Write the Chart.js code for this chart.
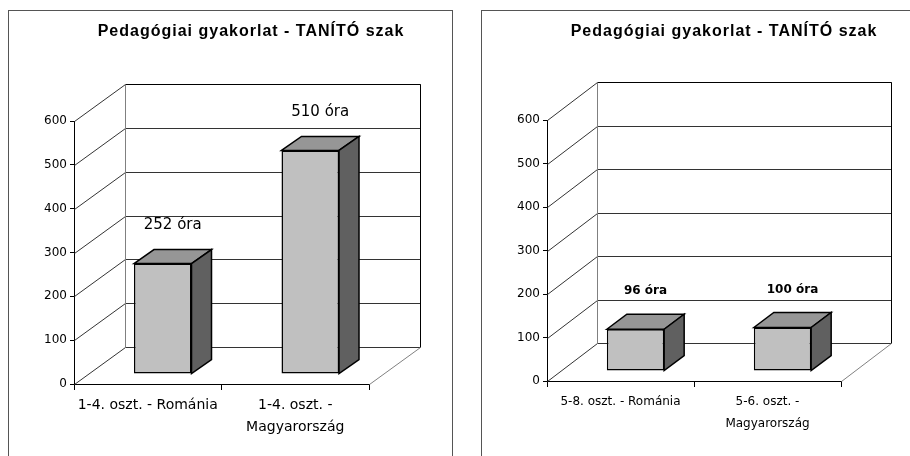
<!DOCTYPE html>
<html>
<head>
<meta charset="utf-8">
<script src="https://cdn.jsdelivr.net/npm/chart.js@4.4.1/dist/chart.umd.min.js"></script>
<style>
  html, body { margin: 0; padding: 0; background: #fff; overflow: hidden; }
  body { width: 910px; height: 456px; position: relative; }
  .box { position: absolute; top: 10px; height: 470px; box-sizing: border-box; border: 1px solid #555; }
  canvas { position: absolute; top: 0; }
</style>
</head>
<body>
<div class="box" style="left:8px; width:445px;"></div>
<div class="box" style="left:481px; width:440px;"></div>
<canvas id="leftChart" width="455" height="456" style="left:0"></canvas>
<canvas id="rightChart" width="455" height="456" style="left:455px"></canvas>
<script>
const titleText = 'Pedagógiai gyakorlat - TANÍTÓ szak';
const unit = 'óra';
const yTickValues = [0, 100, 200, 300, 400, 500, 600];

const leftCategories = ['1-4. oszt. - Románia', ['1-4. oszt. -', 'Magyarország']];
const leftValues = [252, 510];

const rightCategories = ['5-8. oszt. - Románia', ['5-6. oszt. -', 'Magyarország']];
const rightValues = [96, 100];

const FONT = 'DejaVu Sans';

function line(ctx, x1, y1, x2, y2) {
  ctx.beginPath();
  ctx.moveTo(x1, y1);
  ctx.lineTo(x2, y2);
  ctx.stroke();
}

function poly(ctx, pts, fill) {
  ctx.beginPath();
  ctx.moveTo(pts[0][0], pts[0][1]);
  pts.slice(1).forEach(p => ctx.lineTo(p[0], p[1]));
  ctx.closePath();
  ctx.fillStyle = fill;
  ctx.fill();
  ctx.stroke();
}

// fake excel 3d look: walls, floor, bar tops/sides, value labels, title
function threeD(o) {
  return {
    id: 'threeD',
    beforeDatasetsDraw(chart) {
      const { ctx, chartArea: a, scales: { y } } = chart;
      const [dx, dy] = o.depth;
      const L = Math.round(a.left) + 0.5, R = Math.round(a.right) + 0.5;
      const y0 = Math.round(y.getPixelForValue(0)) + 0.5;
      const yTop = Math.round(y.getPixelForValue(yTickValues[yTickValues.length - 1])) + 0.5;
      ctx.save();
      ctx.lineWidth = 1;
      ctx.strokeStyle = '#333';
      yTickValues.forEach(v => {
        const py = Math.round(y.getPixelForValue(v)) + 0.5;
        line(ctx, L, py, L + dx, py + dy);
      });
      ctx.strokeStyle = '#333';
      yTickValues.forEach(v => {
        const py = Math.round(y.getPixelForValue(v)) + 0.5 + dy;
        line(ctx, L + dx, py, R + dx, py);
      });
      ctx.strokeStyle = '#000';
      line(ctx, L + dx, yTop + dy, R + dx, yTop + dy);
      line(ctx, R + dx, yTop + dy, R + dx, y0 + dy);
      ctx.strokeStyle = '#808080';
      line(ctx, L + dx, yTop + dy, L + dx, y0 + dy);
      line(ctx, R, y0, R + dx, y0 + dy);
      ctx.restore();
      ctx.save();
      ctx.translate(o.shift[0], o.shift[1]);
    },
    afterDatasetsDraw(chart) {
      const ctx = chart.ctx;
      const [bx, by] = o.barDepth;
      const bars = chart.getDatasetMeta(0).data;
      ctx.lineWidth = 1.5;
      ctx.strokeStyle = '#000';
      ctx.lineJoin = 'miter';
      bars.forEach(bar => {
        const { x, y, base, width } = bar.getProps(['x', 'y', 'base', 'width'], true);
        const l = x - width / 2, r = x + width / 2;
        poly(ctx, [[l, y], [l + bx, y + by], [r + bx, y + by], [r, y]], '#969696');
        poly(ctx, [[r, y], [r + bx, y + by], [r + bx, base + by], [r, base]], '#606060');
      });
      ctx.restore();

      // value labels
      const values = chart.data.datasets[0].data;
      ctx.save();
      ctx.fillStyle = '#000';
      ctx.font = o.labelFont;
      ctx.textAlign = 'center';
      ctx.textBaseline = 'middle';
      bars.forEach((bar, i) => {
        const { x, y } = bar.getProps(['x', 'y'], true);
        ctx.fillText(values[i] + ' ' + unit, x + o.shift[0] + bx / 2, y + o.shift[1] + by - o.labelGap);
      });
      ctx.restore();

      // title
      ctx.save();
      ctx.fillStyle = '#000';
      ctx.font = 'bold 16px "Liberation Sans"';
      ctx.letterSpacing = '1px';
      ctx.textAlign = 'center';
      ctx.textBaseline = 'middle';
      ctx.fillText(titleText, o.titleX, 32);
      ctx.restore();
    }
  };
}

function makeChart(id, categories, values, o) {
  new Chart(document.getElementById(id), {
    type: 'bar',
    data: {
      labels: categories,
      datasets: [{
        data: values,
        backgroundColor: '#C0C0C0',
        borderColor: '#000',
        borderWidth: 1.5,
        borderSkipped: false,
        barPercentage: 0.39,
        categoryPercentage: 1,
        clip: false,
      }],
    },
    options: {
      responsive: false,
      animation: false,
      layout: { padding: o.padding },
      plugins: {
        legend: { display: false },
        title: { display: false },
        tooltip: { enabled: false },
      },
      scales: {
        x: {
          afterFit: s => { s.height = 60; },
          grid: { drawOnChartArea: false, tickLength: 6, color: '#000', offset: true },
          border: { color: '#000', width: 1 },
          ticks: {
            color: '#000',
            font: { family: FONT, size: o.catSize, lineHeight: o.catLineHeight },
            padding: 4,
            maxRotation: 0,
            autoSkip: false,
          },
        },
        y: {
          min: 0,
          max: 600,
          afterFit: s => { s.width = 60; },
          afterBuildTicks: s => { s.ticks = yTickValues.map(v => ({ value: v })); },
          grid: { drawOnChartArea: false, tickLength: 4, color: '#000' },
          border: { color: '#000', width: 1 },
          ticks: { color: '#000', font: { family: FONT, size: 12 }, padding: 3 },
        },
      },
    },
    plugins: [threeD(o)],
  });
}

makeChart('leftChart', leftCategories, leftValues, {
  padding: { left: 14, right: 86, top: 121, bottom: 12 },
  depth: [51, -37],
  shift: [15, -10],
  barDepth: [20, -14],
  labelFont: '15px ' + FONT,
  labelGap: 24,
  titleX: 251,
  catSize: 14,
  catLineHeight: 1.57,
});

makeChart('rightChart', rightCategories, rightValues, {
  padding: { left: 32, right: 69, top: 120, bottom: 15 },
  depth: [50, -38],
  shift: [15, -10],
  barDepth: [20, -15],
  labelFont: 'bold 12px ' + FONT,
  labelGap: 23,
  titleX: 269,
  catSize: 12,
  catLineHeight: 1.83,
});
</script>
</body>
</html>
